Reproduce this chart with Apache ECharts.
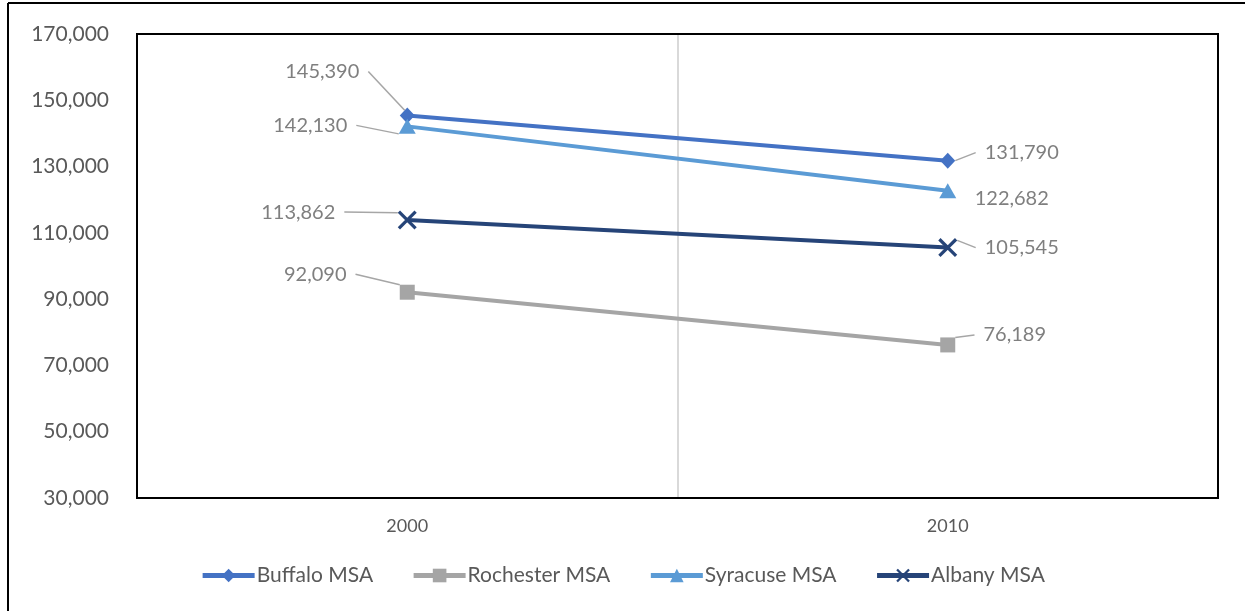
<!DOCTYPE html>
<html>
<head>
<meta charset="utf-8">
<script src="https://cdn.jsdelivr.net/npm/echarts@6/dist/echarts.min.js"></script>
<style>
html,body{margin:0;padding:0;background:#fff;}
#chart{width:1245px;height:611px;}
</style>
</head>
<body>
<div id="chart"></div>
<script>
const years = ['2000', '2010'];
const seriesNames = ['Buffalo MSA', 'Rochester MSA', 'Syracuse MSA', 'Albany MSA'];
const buffalo = [145390, 131790];
const rochester = [92090, 76189];
const syracuse = [142130, 122682];
const albany = [113862, 105545];
const yTicks = [30000, 50000, 70000, 90000, 110000, 130000, 150000, 170000];

const colors = ['#4472C4', '#A5A5A5', '#5B9BD5', '#264478'];
const symbols = ['diamond', 'rect', 'triangle', 'path://M0,1.2L1.2,0L10,8.8L8.8,10Z M8.8,0L10,1.2L1.2,10L0,8.8Z'];
const symbolSizes = [[15, 16], 15, [17, 15], 19];
// label offsets [seriesIndex][dataIndex] = [dx, dy] from point (layout only)
const labelOffsets = [
  [[-85, -44], [74, -8]],
  [[-92, -18], [67, -10]],
  [[-97, -1], [64, 8]],
  [[-109, -8], [74, 0]]
];
const showLeader = [[true, true], [true, true], [true, false], [true, true]];
const allValues = [buffalo, rochester, syracuse, albany];

const fontFam = 'Lato, "Open Sans", sans-serif';
const chart = echarts.init(document.getElementById('chart'), null, {renderer: 'canvas'});

const series = allValues.map((vals, si) => ({
  name: seriesNames[si],
  type: 'line',
  data: vals.map((v, di) => ({value: v, labelLine: {show: showLeader[si][di]}})),
  symbol: symbols[si],
  symbolSize: symbolSizes[si],
  showAllSymbol: true,
  z: si === 1 ? 1 : 2,
  lineStyle: {color: colors[si], width: 4},
  itemStyle: {color: colors[si]},
  label: {
    show: true,
    position: 'inside',
    align: 'center',
    verticalAlign: 'middle',
    color: '#7f7f7f',
    fontSize: 20,
    fontFamily: fontFam,
    padding: [0, 9],
    backgroundColor: 'rgba(255,255,255,0)',
    formatter: p => p.value.toLocaleString('en-US')
  },
  labelLine: {show: true, lineStyle: {color: '#a6a6a6', width: 1.5}},
  labelLayout: function (params) {
    const off = labelOffsets[params.seriesIndex][params.dataIndex];
    return {dx: off[0], dy: off[1]};
  },
  emphasis: {disabled: true},
  animation: false
}));

chart.setOption({
  animation: false,
  backgroundColor: '#fff',
  color: colors,
  grid: {
    left: 137, right: 27, top: 34, bottom: 113,
    show: true, borderColor: '#000', borderWidth: 2,
    backgroundColor: '#fff'
  },
  xAxis: {
    type: 'category',
    data: years,
    boundaryGap: true,
    axisLine: {show: false},
    axisTick: {show: false},
    splitLine: {show: true, lineStyle: {color: '#d9d9d9', width: 2}},
    axisLabel: {color: '#595959', fontSize: 18, fontFamily: fontFam, margin: 19}
  },
  yAxis: {
    type: 'value',
    min: yTicks[0],
    max: yTicks[yTicks.length - 1],
    interval: yTicks[1] - yTicks[0],
    axisLine: {show: false},
    axisTick: {show: false},
    splitLine: {show: false},
    axisLabel: {
      color: '#595959', fontSize: 21, fontFamily: fontFam, margin: 28,
      formatter: v => v.toLocaleString('en-US')
    }
  },
  legend: {
    bottom: 20,
    left: 'center',
    itemWidth: 52,
    itemHeight: 17,
    itemGap: 38,
    lineStyle: {width: 5},
    textStyle: {color: '#595959', fontSize: 21, fontFamily: fontFam, padding: [0, 0, 0, -3]},
    data: seriesNames
  },
  graphic: [
    {type: 'line', shape: {x1: 8, y1: 3, x2: 1245, y2: 3}, style: {stroke: '#000', lineWidth: 2}, silent: true},
    {type: 'line', shape: {x1: 8, y1: 3, x2: 8, y2: 611}, style: {stroke: '#000', lineWidth: 2}, silent: true},
    {type: 'rect', shape: {x: 137, y: 34, width: 1081, height: 464}, style: {fill: 'none', stroke: '#000', lineWidth: 2}, silent: true, z: 100}
  ],
  series: series
});
</script>
</body>
</html>
